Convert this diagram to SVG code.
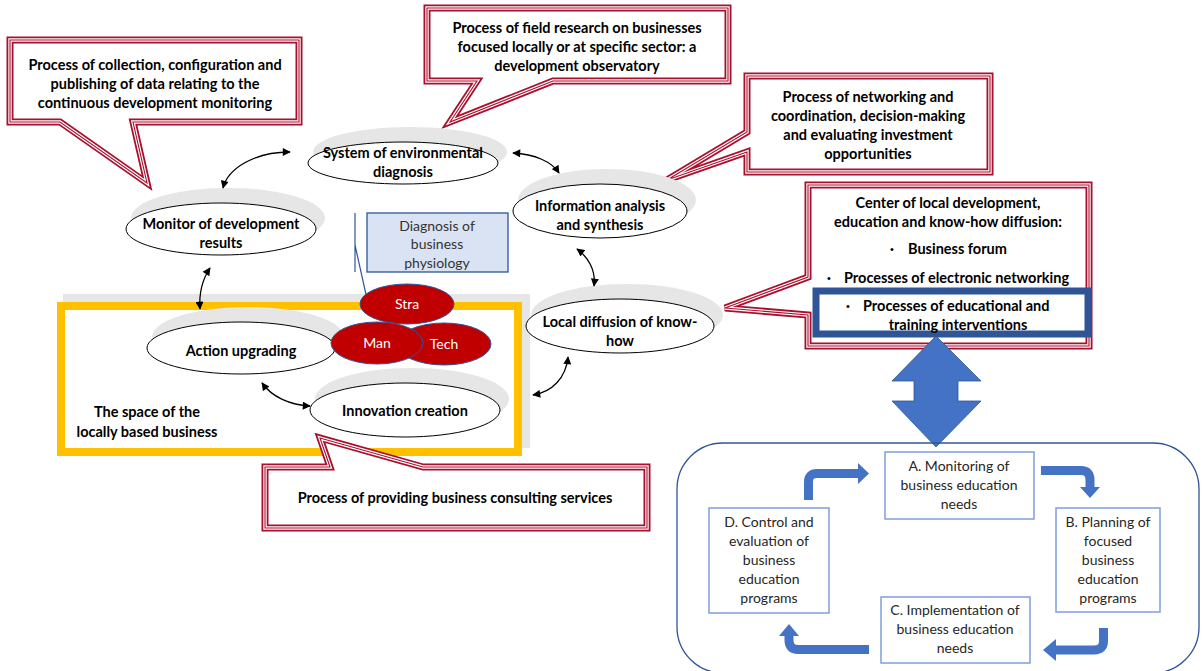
<svg xmlns="http://www.w3.org/2000/svg" width="1204" height="671" viewBox="0 0 1204 671">
<style>
.co1{fill:#fff;stroke:#a8102e;stroke-width:7;stroke-linejoin:miter}
.co2{fill:none;stroke:#fff;stroke-width:3.4}
.co3{fill:none;stroke:#a8102e;stroke-width:1.1}
.ct{font-family:Lato,"Liberation Sans",sans-serif;font-weight:bold;font-size:14.5px;fill:#000;text-anchor:middle}
.bu{font-family:"Liberation Sans",sans-serif;font-size:11px;fill:#000;text-anchor:middle}
.sh{fill:#e7e6e6}
.el{fill:#fff;stroke:#000;stroke-width:1}
.et{font-family:Lato,"Liberation Sans",sans-serif;font-weight:bold;font-size:14.5px;fill:#000;text-anchor:middle}
.red{fill:#c00000;stroke:#2f5597;stroke-width:1}
.rt{font-family:Lato,"Liberation Sans",sans-serif;font-size:14px;fill:#fff;text-anchor:middle}
.bx{fill:#fff;stroke:#7f9fd8;stroke-width:1.5}
.bt{font-family:Lato,"Liberation Sans",sans-serif;font-size:14px;fill:#262626;text-anchor:middle}
.con{fill:none;stroke:#000;stroke-width:1.3;marker-start:url(#ah);marker-end:url(#ah)}
.ba{fill:none;stroke:#4472c4;stroke-width:9}
.bh{fill:#4472c4}
</style>
<defs>
<marker id="ah" viewBox="0 0 10 10" refX="9" refY="5" markerWidth="9" markerHeight="8" markerUnits="userSpaceOnUse" orient="auto-start-reverse">
<path d="M0,0 L10,5 L0,10 Z" fill="#000"/>
</marker>
<path id="p1" d="M10,40 H299 V122 H133 L147,183 L60,122 H10 Z"/>
<path id="p2" d="M427,8 H728 V81 H553 L450,122 L477,81 H427 Z"/>
<path id="p3" d="M747,76 H990 V172 H747 V152 L667,180 L747,132 Z"/>
<path id="p4" d="M808,185 H1089 V346 H808 V315 L725,308 L808,277 Z"/>
<path id="p5" d="M265,467 H330 L320,438 L423,467 H647 V528 H265 Z"/>
</defs>
<rect width="1204" height="671" fill="#fff"/>

<g id="business-space">
<rect x="63" y="294" width="467" height="154" fill="#e7e6e6"/>
<rect x="61" y="306" width="457" height="146" fill="#fff" stroke="#ffc000" stroke-width="8"/>
<text class="et" x="147" y="417">The space of the</text>
<text class="et" x="147" y="437">locally based business</text>
</g>

<g id="callout1">
<use href="#p1" class="co1"/><use href="#p1" class="co2"/><use href="#p1" class="co3"/>
<text class="ct" x="155" y="70">Process of collection, configuration and</text>
<text class="ct" x="155" y="89">publishing of data relating to the</text>
<text class="ct" x="155" y="108">continuous development monitoring</text>
</g>
<g id="callout2">
<use href="#p2" class="co1"/><use href="#p2" class="co2"/><use href="#p2" class="co3"/>
<text class="ct" x="577" y="33">Process of field research on businesses</text>
<text class="ct" x="577" y="52">focused locally or at specific sector: a</text>
<text class="ct" x="577" y="71">development observatory</text>
</g>
<g id="callout3">
<use href="#p3" class="co1"/><use href="#p3" class="co2"/><use href="#p3" class="co3"/>
<text class="ct" x="868" y="102">Process of networking and</text>
<text class="ct" x="868" y="121">coordination, decision-making</text>
<text class="ct" x="868" y="140">and evaluating investment</text>
<text class="ct" x="868" y="159">opportunities</text>
</g>
<g id="callout4">
<use href="#p4" class="co1"/><use href="#p4" class="co2"/><use href="#p4" class="co3"/>
<text class="ct" x="948" y="208">Center of local development,</text>
<text class="ct" x="948" y="227">education and know-how diffusion:</text>
<text class="bu" x="892" y="253">•</text>
<text class="ct" x="908" y="254" style="text-anchor:start">Business forum</text>
<text class="bu" x="829" y="282">•</text>
<text class="ct" x="844" y="283" style="text-anchor:start">Processes of electronic networking</text>
<rect x="816" y="291" width="272" height="43" fill="none" stroke="#2f5597" stroke-width="7"/>
<text class="bu" x="848" y="310">•</text>
<text class="ct" x="863" y="311" style="text-anchor:start">Processes of educational and</text>
<text class="ct" x="958" y="330">training interventions</text>
</g>
<g id="callout5">
<use href="#p5" class="co1"/><use href="#p5" class="co2"/><use href="#p5" class="co3"/>
<text class="ct" x="455" y="503">Process of providing business consulting services</text>
</g>

<g id="system-diagnosis">
<ellipse class="sh" cx="410" cy="152" rx="97" ry="25"/>
<ellipse class="el" cx="403" cy="163" rx="95" ry="21"/>
<text class="et" x="403" y="158">System of environmental</text>
<text class="et" x="403" y="177">diagnosis</text>
</g>
<g id="monitor">
<ellipse class="sh" cx="228" cy="218" rx="97" ry="30"/>
<ellipse class="el" cx="221" cy="229" rx="95" ry="26"/>
<text class="et" x="221" y="229">Monitor of development</text>
<text class="et" x="221" y="248">results</text>
</g>
<g id="info-analysis">
<ellipse class="sh" cx="607" cy="200" rx="89" ry="31"/>
<ellipse class="el" cx="600" cy="211" rx="87" ry="27"/>
<text class="et" x="600" y="211">Information analysis</text>
<text class="et" x="600" y="230">and synthesis</text>
</g>
<g id="local-diffusion">
<ellipse class="sh" cx="627" cy="315" rx="96" ry="31"/>
<ellipse class="el" cx="620" cy="326" rx="94" ry="27"/>
<text class="et" x="620" y="327">Local diffusion of know-</text>
<text class="et" x="620" y="346">how</text>
</g>
<g id="action-upgrading">
<ellipse class="sh" cx="248" cy="337" rx="96" ry="30"/>
<ellipse class="el" cx="241" cy="348" rx="94" ry="26"/>
<text class="et" x="241" y="356">Action upgrading</text>
</g>
<g id="innovation">
<ellipse class="sh" cx="412" cy="399" rx="97" ry="31"/>
<ellipse class="el" cx="405" cy="410" rx="95" ry="27"/>
<text class="et" x="405" y="416">Innovation creation</text>
</g>

<g id="diagnosis-physiology">
<rect x="367" y="213" width="141" height="59" fill="#dae3f3" stroke="#2f5597" stroke-width="1.3"/>
<text class="bt" x="437" y="231" style="fill:#333">Diagnosis of</text>
<text class="bt" x="437" y="249" style="fill:#333">business</text>
<text class="bt" x="437" y="268" style="fill:#333">physiology</text>
<path d="M355,213 V272 M355,245 L367,299" fill="none" stroke="#2f5597" stroke-width="1.2"/>
</g>
<g id="stra-man-tech">
<ellipse class="red" cx="407" cy="304" rx="47" ry="20"/>
<ellipse class="red" cx="444" cy="344" rx="47" ry="21"/>
<ellipse class="red" cx="377" cy="343" rx="46" ry="21"/>
<text class="rt" x="407" y="309">Stra</text>
<text class="rt" x="377" y="348">Man</text>
<text class="rt" x="444" y="349">Tech</text>
</g>

<g id="connectors">
<path class="con" d="M223,188 C228,168 255,152 290,152"/>
<path class="con" d="M513,153 C535,154 552,162 559,173"/>
<path class="con" d="M577,249 C588,257 596,270 594,286"/>
<path class="con" d="M568,357 C566,378 552,392 533,395"/>
<path class="con" d="M262,383 C272,397 290,405 310,406"/>
<path class="con" d="M210,268 C202,280 199,295 200,309"/>
</g>

<g id="double-arrow">
<polygon points="936,336 981,381 958,381 958,401 981,401 936,447 892,401 914,401 914,381 892,381" fill="#4472c4" stroke="#2f5597" stroke-width="0.8"/>
</g>

<g id="education-cycle">
<rect x="677" y="443" width="522" height="230" rx="46" fill="none" stroke="#2f5597" stroke-width="1.3"/>
</g>
<g id="box-a">
<rect class="bx" x="885" y="452" width="149" height="67"/>
<text class="bt" x="959" y="471">A. Monitoring of</text>
<text class="bt" x="959" y="490">business education</text>
<text class="bt" x="959" y="509">needs</text>
</g>
<g id="box-b">
<rect class="bx" x="1056" y="508" width="104" height="104"/>
<text class="bt" x="1108" y="527">B. Planning of</text>
<text class="bt" x="1108" y="546">focused</text>
<text class="bt" x="1108" y="565">business</text>
<text class="bt" x="1108" y="584">education</text>
<text class="bt" x="1108" y="603">programs</text>
</g>
<g id="box-c">
<rect class="bx" x="881" y="597" width="149" height="66"/>
<text class="bt" x="955" y="615">C. Implementation of</text>
<text class="bt" x="955" y="634">business education</text>
<text class="bt" x="955" y="653">needs</text>
</g>
<g id="box-d">
<rect class="bx" x="709" y="508" width="120" height="105"/>
<text class="bt" x="769" y="527">D. Control and</text>
<text class="bt" x="769" y="546">evaluation of</text>
<text class="bt" x="769" y="565">business</text>
<text class="bt" x="769" y="584">education</text>
<text class="bt" x="769" y="603">programs</text>
</g>
<g id="cycle-arrows">
<path class="ba" d="M808.5,500 V482 Q808.5,473.5 817,473.5 H859"/>
<polygon class="bh" points="858,463 869,473.5 858,484"/>
<path class="ba" d="M1041,470.5 H1081 Q1090,470.5 1090,480 V488"/>
<polygon class="bh" points="1080,487 1100,487 1090,498"/>
<path class="ba" d="M1103.5,628 V641 Q1103.5,650 1094,650 H1055"/>
<polygon class="bh" points="1056,639 1056,661 1043,650"/>
<path class="ba" d="M869,649.5 H798 Q789,649.5 789,640 V635"/>
<polygon class="bh" points="779,636 799,636 789,624"/>
</g>
</svg>
